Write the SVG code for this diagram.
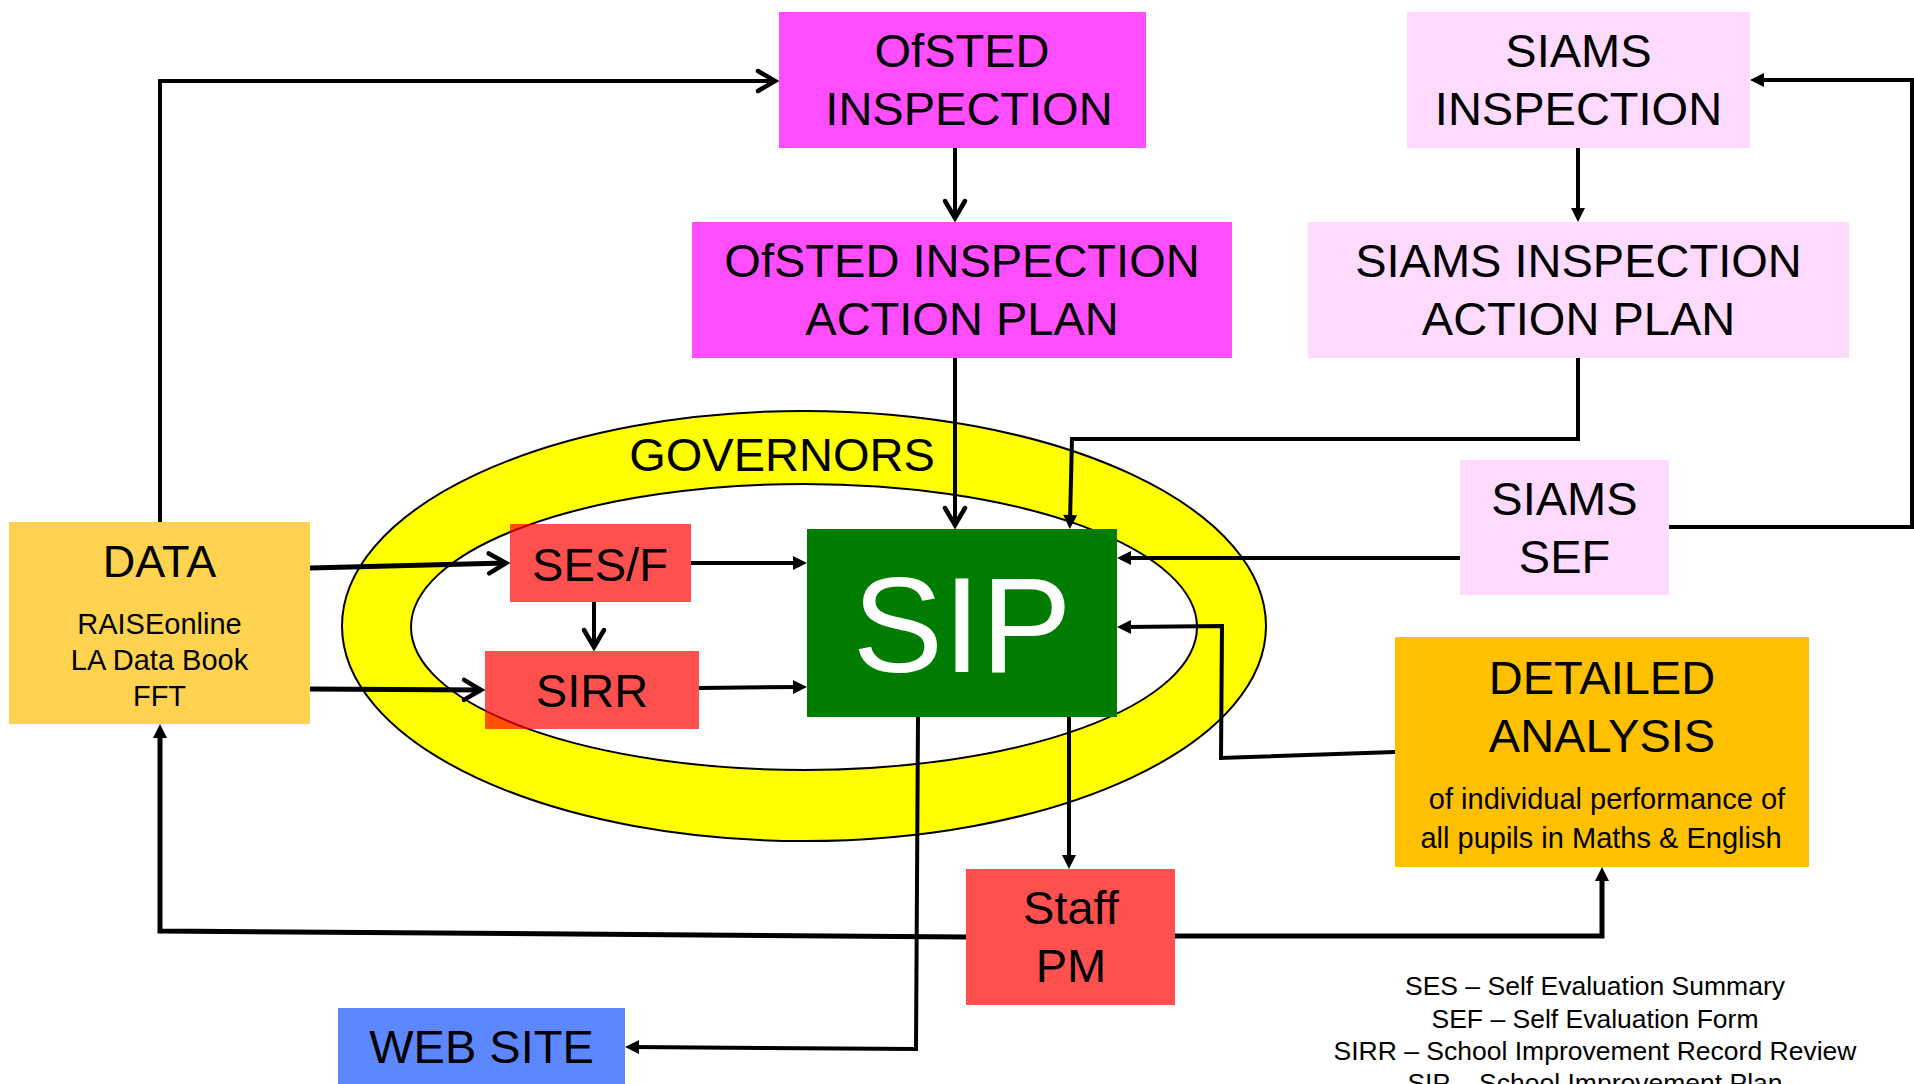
<svg xmlns="http://www.w3.org/2000/svg" width="1914" height="1084" viewBox="0 0 1914 1084">
<style>
text{font-family:"Liberation Sans",Arial,sans-serif;fill:#000;text-anchor:middle}
.big{font-size:47px}
.mid{font-size:29px}
.leg{font-size:26.5px}
.ln{fill:none;stroke:#000;stroke-width:4;stroke-linejoin:miter}
.lt{stroke-width:5}
.mag{fill:#FF4DFF}
.pink{fill:#FFDAFF}
.red{fill:#FF0000;fill-opacity:0.686}
</style>
<defs>
<marker id="chev" markerUnits="userSpaceOnUse" markerWidth="40" markerHeight="40" viewBox="-20 -20 40 40" refX="0" refY="0" orient="auto" overflow="visible">
<path d="M-17,-10 L0,0 L-17,10" fill="none" stroke="#000" stroke-width="4.5" stroke-linecap="round"/>
</marker>
<marker id="tri" markerUnits="userSpaceOnUse" markerWidth="40" markerHeight="40" viewBox="-20 -20 40 40" refX="0" refY="0" orient="auto" overflow="visible">
<path d="M-6,-7 L8,0 L-6,7 Z" fill="#000"/>
</marker>
</defs>
<rect width="1914" height="1084" fill="#fff"/>

<g id="governors">
<path d="M342,626 A462,215 0 1 0 1266,626 A462,215 0 1 0 342,626 Z M411,627 A393,143 0 1 0 1197,627 A393,143 0 1 0 411,627 Z" fill="#FFFF00" fill-rule="evenodd" stroke="#000" stroke-width="2"/>
<text class="big" x="782" y="471">GOVERNORS</text>
</g>

<g id="ofsted-inspection">
<rect class="mag" x="779" y="12" width="367" height="136"/>
<text class="big" x="962" y="67">OfSTED</text>
<text class="big" x="969" y="125">INSPECTION</text>
</g>
<g id="ofsted-action-plan">
<rect class="mag" x="692" y="222" width="540" height="136"/>
<text class="big" x="962" y="277">OfSTED INSPECTION</text>
<text class="big" x="962" y="335">ACTION PLAN</text>
</g>
<g id="siams-inspection">
<rect class="pink" x="1407" y="12" width="343" height="136"/>
<text class="big" x="1578.5" y="67">SIAMS</text>
<text class="big" x="1578.5" y="125">INSPECTION</text>
</g>
<g id="siams-action-plan">
<rect class="pink" x="1308" y="222" width="541" height="136"/>
<text class="big" x="1578.5" y="277">SIAMS INSPECTION</text>
<text class="big" x="1578.5" y="335">ACTION PLAN</text>
</g>
<g id="siams-sef">
<rect class="pink" x="1460" y="460" width="209" height="135"/>
<text class="big" x="1564.5" y="515">SIAMS</text>
<text class="big" x="1564.5" y="573">SEF</text>
</g>
<g id="data">
<rect x="9" y="522" width="301" height="202" fill="#FFD34F"/>
<text x="159.5" y="577" style="font-size:45px">DATA</text>
<text class="mid" x="159.5" y="634">RAISEonline</text>
<text class="mid" x="159.5" y="670">LA Data Book</text>
<text class="mid" x="159.5" y="706">FFT</text>
</g>
<g id="ses-f">
<rect class="red" x="510" y="524" width="181" height="78"/>
<text class="big" x="600" y="581">SES/F</text>
</g>
<g id="sirr">
<rect class="red" x="485" y="651" width="214" height="78"/>
<text class="big" x="592" y="707">SIRR</text>
</g>
<g id="sip">
<rect x="807" y="529" width="310" height="188" fill="#007C00"/>
<text x="962" y="672" style="font-size:136px;fill:#fff">SIP</text>
</g>
<g id="detailed-analysis">
<rect x="1395" y="637" width="414" height="230" fill="#FFC000"/>
<text class="big" x="1602" y="694">DETAILED</text>
<text class="big" x="1602" y="752">ANALYSIS</text>
<text class="mid" x="1607" y="809">of individual performance of</text>
<text class="mid" x="1601" y="848">all pupils in Maths &amp; English</text>
</g>
<g id="staff-pm">
<rect class="red" x="966" y="869" width="209" height="136"/>
<text class="big" x="1071" y="924">Staff</text>
<text class="big" x="1071" y="982">PM</text>
</g>
<g id="web-site">
<rect x="338" y="1008" width="287" height="80" fill="#5C87FF"/>
<text class="big" x="481.5" y="1063">WEB SITE</text>
</g>
<g id="legend">
<text class="leg" x="1595" y="995">SES – Self Evaluation Summary</text>
<text class="leg" x="1595" y="1027.5">SEF – Self Evaluation Form</text>
<text class="leg" x="1595" y="1060">SIRR – School Improvement Record Review</text>
<text class="leg" x="1595" y="1092">SIP – School Improvement Plan</text>
</g>

<g id="connectors">
<path class="ln" d="M160,522 L160,81 L775,81" marker-end="url(#chev)"/>
<path class="ln" d="M955,148 L955,218" marker-end="url(#chev)"/>
<path class="ln" d="M955,358 L955,525" marker-end="url(#chev)"/>
<path class="ln" d="M1578,148 L1578,214" marker-end="url(#tri)"/>
<path class="ln" d="M1578,358 L1578,439 L1072,439 L1070,521" marker-end="url(#tri)"/>
<path class="ln" d="M1669,527 L1912,527 L1912,80 L1758,80" marker-end="url(#tri)"/>
<path class="ln" d="M1460,558 L1125,558" marker-end="url(#tri)"/>
<path class="ln" d="M1395,752 L1221,758 L1222,626 L1125,627" marker-end="url(#tri)"/>
<path class="ln" d="M1069,717 L1069,861" marker-end="url(#tri)"/>
<path class="ln" d="M918,717 L916,1049 L633,1047" marker-end="url(#tri)"/>
<path class="ln lt" d="M966,937 L160,931 L160,732" marker-end="url(#tri)"/>
<path class="ln lt" d="M1175,936 L1602,936 L1602,875" marker-end="url(#tri)"/>
<path class="ln lt" d="M310,568 L506,563" marker-end="url(#chev)"/>
<path class="ln lt" d="M310,689 L481,690" marker-end="url(#chev)"/>
<path class="ln" d="M691,563 L799,563" marker-end="url(#tri)"/>
<path class="ln" d="M594,602 L594,647" marker-end="url(#chev)"/>
<path class="ln" d="M699,688 L799,687" marker-end="url(#tri)"/>
</g>
</svg>
